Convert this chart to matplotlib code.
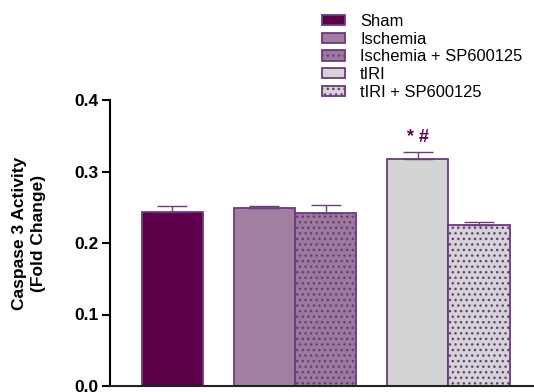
import matplotlib
matplotlib.use("Agg")
import matplotlib.pyplot as plt
from matplotlib.patches import Patch

plt.rcParams['font.family'] = ['Liberation Sans', 'DejaVu Sans']
plt.rcParams['hatch.linewidth'] = 1.0

# Data
groups = ["Sham", "Ischemia", "Ischemia + SP600125", "tIRI", "tIRI + SP600125"]
values = [0.244, 0.249, 0.2415, 0.318, 0.225]
errors = [0.008, 0.003, 0.012, 0.009, 0.005]
positions = [0, 1.5, 2.5, 4, 5]
yticks = [0.0, 0.1, 0.2, 0.3, 0.4]

fills = ["#5E004B", "#A07FA0", "#9B7A9B", "#D4D4D4", "#D4D4D4"]
hatches = [None, None, "...", None, "..."]
edge = "#6B3A80"

fig = plt.figure(figsize=(5.34, 3.92), dpi=100)
ax = fig.add_axes([110/534, 6/392, 423/534, 286/392])

for p, v, e, c, h in zip(positions, values, errors, fills, hatches):
    ax.bar(p, v, width=1.0, color=c, edgecolor=edge, linewidth=1.3, hatch=h, zorder=2)
    ax.errorbar(p, v, yerr=[[0], [e]], color=edge, capsize=10.8, elinewidth=1.0,
                capthick=1.0, fmt='none', zorder=3)

ax.set_xlim(-1.017, 5.88)
ax.set_ylim(0, 0.4)
ax.set_yticks(yticks)
ax.set_yticklabels([f"{t:.1f}" for t in yticks], fontweight='bold', fontsize=12.5)
ax.set_xticks([])
ax.spines['top'].set_visible(False)
ax.spines['right'].set_visible(False)
ax.spines['left'].set_linewidth(1.5)
ax.spines['bottom'].set_linewidth(1.5)
ax.spines['bottom'].set_color('#222222')
ax.tick_params(axis='y', length=6, width=1.5, pad=2)

ax.text(positions[3], values[3] + errors[3] + 0.008, "* #", ha='center', va='bottom',
        fontsize=13, fontweight='bold', color="#5E004B")

fig.text(29/534, 1 - 233/392, "Caspase 3 Activity\n(Fold Change)", rotation=90,
         ha='center', va='center', multialignment='center', fontsize=12.5,
         fontweight='bold', linespacing=1.25)

handles = [Patch(facecolor=c, edgecolor=edge, hatch=h, linewidth=1.3)
           for c, h in zip(fills, hatches)]
fig.legend(handles, groups, loc='upper left', bbox_to_anchor=(322/534, 1 - 14/392),
           frameon=False, fontsize=11.9, handlelength=1.4, handleheight=0.6,
           handletextpad=0.9, labelspacing=0.16, borderpad=0, borderaxespad=0)

fig.savefig("out.png", dpi=100)
